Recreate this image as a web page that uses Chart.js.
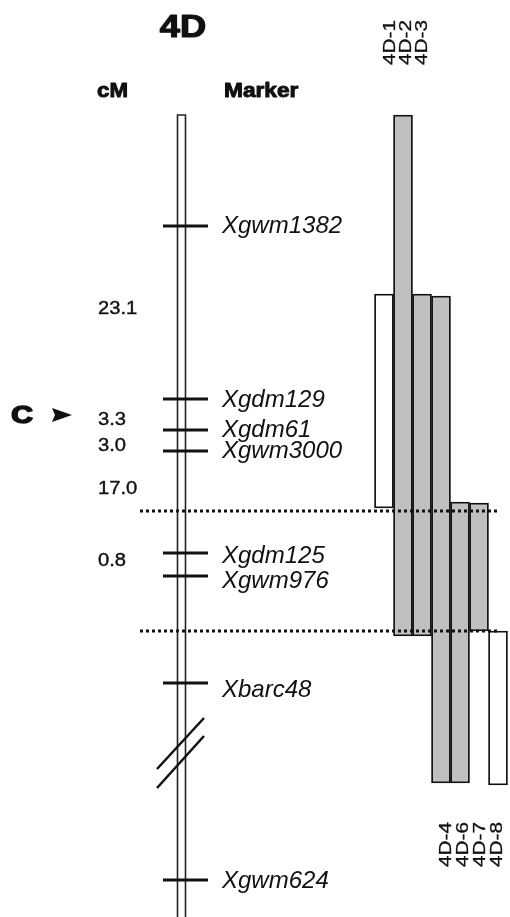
<!DOCTYPE html>
<html>
<head>
<meta charset="utf-8">
<script src="https://cdn.jsdelivr.net/npm/chart.js@4.4.1/dist/chart.umd.min.js"></script>
<style>
  html, body { margin: 0; padding: 0; background: #fff; }
  #wrap { width: 510px; height: 917px; position: relative; }
</style>
</head>
<body>
<div id="wrap"><canvas id="c"></canvas></div>
<script>
// ---------------- DATA (map positions, top = 0) ----------------
const chromosomeName = '4D';
const markerNames = ['Xgwm1382', 'Xgdm129', 'Xgdm61', 'Xgwm3000', 'Xgdm125', 'Xgwm976', 'Xbarc48', 'Xgwm624'];
const markerPos   = [226, 399, 430, 451, 553, 576, 683, 880];
const cMValues    = ['23.1', '3.3', '3.0', '17.0', '0.8'];
const cMLabelPos  = [309, 420, 446, 489, 561];
const chromTop    = 115;
const breakPos    = [[769, 718], [788, 736]];
const centromerePos = 415;
const centromereLabel = 'C';
const boundaryPos = [511, 631];

const lineNames   = ['4D-1', '4D-2', '4D-3', '4D-4', '4D-6', '4D-7', '4D-8'];
const segTop      = [294, 115, 294, 296, 502, 503, 631];
const segBottom   = [508, 636, 636, 783, 783, 631, 785];
const segShaded   = [false, true, true, true, true, true, false];
const labelAtTop  = [true, true, true, false, false, false, false];

// ---------------- LAYOUT / STYLE ----------------
const GREY = '#c0c0c0';
const INK = '#111';
const chromX = [177.5, 185.5];
const tickX = [163, 208];
const markerTextX = 222;
const markerLabelNudge = [0, 1, 0, 0, 3, 5, 7, 1];
const cMTextX = 98;
const dottedX = [140, 499];
const labelNudge = [6, 3, 0, 5, 3, 1, -1];

function txt(ctx, s, x, y, font, o) {
  o = o || {};
  ctx.save();
  ctx.translate(x, y);
  if (o.rot) ctx.rotate(o.rot);
  ctx.scale(o.sx || 1, o.sy || 1);
  ctx.font = font;
  ctx.fillStyle = o.color || INK;
  ctx.textAlign = o.align || 'left';
  ctx.textBaseline = o.base || 'alphabetic';
  ctx.fillText(s, 0, 0);
  if (o.heavy) {
    ctx.strokeStyle = o.color || INK;
    ctx.lineWidth = o.heavy;
    ctx.lineJoin = 'round';
    ctx.strokeText(s, 0, 0);
  }
  ctx.restore();
}

const mapPlugin = {
  id: 'mapPlugin',
  beforeDraw(chart) {
    const ctx = chart.ctx;
    ctx.save();
    ctx.fillStyle = '#fff';
    ctx.fillRect(0, 0, chart.width, chart.height);
    ctx.restore();
  },
  afterDatasetsDraw(chart) {
    const ctx = chart.ctx;
    const ys = chart.scales.y, xs = chart.scales.x;
    // dotted boundary lines
    ctx.save();
    ctx.strokeStyle = INK;
    ctx.lineWidth = 3;
    ctx.setLineDash([3, 3]);
    boundaryPos.forEach(p => {
      const y = ys.getPixelForValue(p);
      ctx.beginPath();
      ctx.moveTo(dottedX[0], y);
      ctx.lineTo(dottedX[1], y);
      ctx.stroke();
    });
    ctx.restore();

    // chromosome
    ctx.save();
    const top = ys.getPixelForValue(chromTop);
    const bot = chart.chartArea.bottom + 2;
    ctx.lineWidth = 1.6;
    ctx.strokeStyle = '#222';
    ctx.beginPath();
    ctx.moveTo(chromX[0], bot); ctx.lineTo(chromX[0], top);
    ctx.lineTo(chromX[1], top); ctx.lineTo(chromX[1], bot);
    ctx.stroke();
    ctx.restore();

    // marker ticks + names
    ctx.save();
    ctx.strokeStyle = INK;
    ctx.lineWidth = 3;
    markerPos.forEach((p, i) => {
      const y = ys.getPixelForValue(p);
      ctx.beginPath();
      ctx.moveTo(tickX[0], y); ctx.lineTo(tickX[1], y);
      ctx.stroke();
      txt(ctx, markerNames[i], markerTextX, y + markerLabelNudge[i], 'italic 24px "Liberation Sans", Arial, sans-serif', { base: 'middle' });
    });
    ctx.restore();

    // break marks
    ctx.save();
    ctx.strokeStyle = INK;
    ctx.lineWidth = 2.5;
    breakPos.forEach(b => {
      ctx.beginPath();
      ctx.moveTo(157, ys.getPixelForValue(b[0]));
      ctx.lineTo(204, ys.getPixelForValue(b[1]));
      ctx.stroke();
    });
    ctx.restore();

    // cM values
    cMValues.forEach((v, i) => {
      txt(ctx, v, cMTextX, ys.getPixelForValue(cMLabelPos[i]), '18px "Liberation Sans", Arial, sans-serif', { base: 'middle', sx: 1.12, heavy: 0.4 });
    });

    // centromere
    const cy = ys.getPixelForValue(centromerePos);
    txt(ctx, centromereLabel, 22, cy + 1, 'bold 24px "Liberation Sans", Arial, sans-serif', { base: 'middle', align: 'center', sx: 1.25, heavy: 1.6 });
    ctx.save();
    ctx.fillStyle = INK;
    ctx.beginPath();
    ctx.moveTo(52, cy - 7); ctx.lineTo(72, cy); ctx.lineTo(52, cy + 7); ctx.lineTo(55, cy);
    ctx.closePath(); ctx.fill();
    ctx.restore();

    // headers
    txt(ctx, chromosomeName, 183, 37, 'bold 31px "Liberation Sans", Arial, sans-serif', { align: 'center', sx: 1.17, heavy: 1.2 });
    txt(ctx, 'cM', 97, 97, 'bold 21px "Liberation Sans", Arial, sans-serif', { sx: 1.06, heavy: 1 });
    txt(ctx, 'Marker', 224, 97, 'bold 21px "Liberation Sans", Arial, sans-serif', { sx: 1.08, heavy: 1 });

    // line labels (rotated)
    lineNames.forEach((n, i) => {
      const x = xs.getPixelForValue(i) + labelNudge[i];
      const yb = labelAtTop[i] ? 65 : 867;
      txt(ctx, n, x, yb, '17px "Liberation Sans", Arial, sans-serif', { rot: -Math.PI / 2, base: 'middle', sx: 1.22, heavy: 0.3 });
    });
  }
};

const data = lineNames.map((n, i) => ({ x: i, y: [segTop[i], segBottom[i]] }));

new Chart(document.getElementById('c'), {
  type: 'bar',
  data: {
    datasets: [{
      data: data,
      backgroundColor: segShaded.map(s => s ? GREY : '#ffffff'),
      borderColor: INK,
      borderWidth: 1.8,
      borderSkipped: false,
      barPercentage: 1,
      categoryPercentage: 1
    }]
  },
  options: {
    responsive: true,
    maintainAspectRatio: false,
    animation: false,
    events: [],
    layout: { padding: 0 },
    plugins: { legend: { display: false }, tooltip: { enabled: false } },
    scales: {
      x: { type: 'linear', display: false, offset: false, grid: { offset: false }, min: -384 / 19, max: (510 - 384) / 19 },
      y: { type: 'linear', display: false, reverse: true, min: 0, max: 917 }
    }
  },
  plugins: [mapPlugin]
});
</script>
</body>
</html>
